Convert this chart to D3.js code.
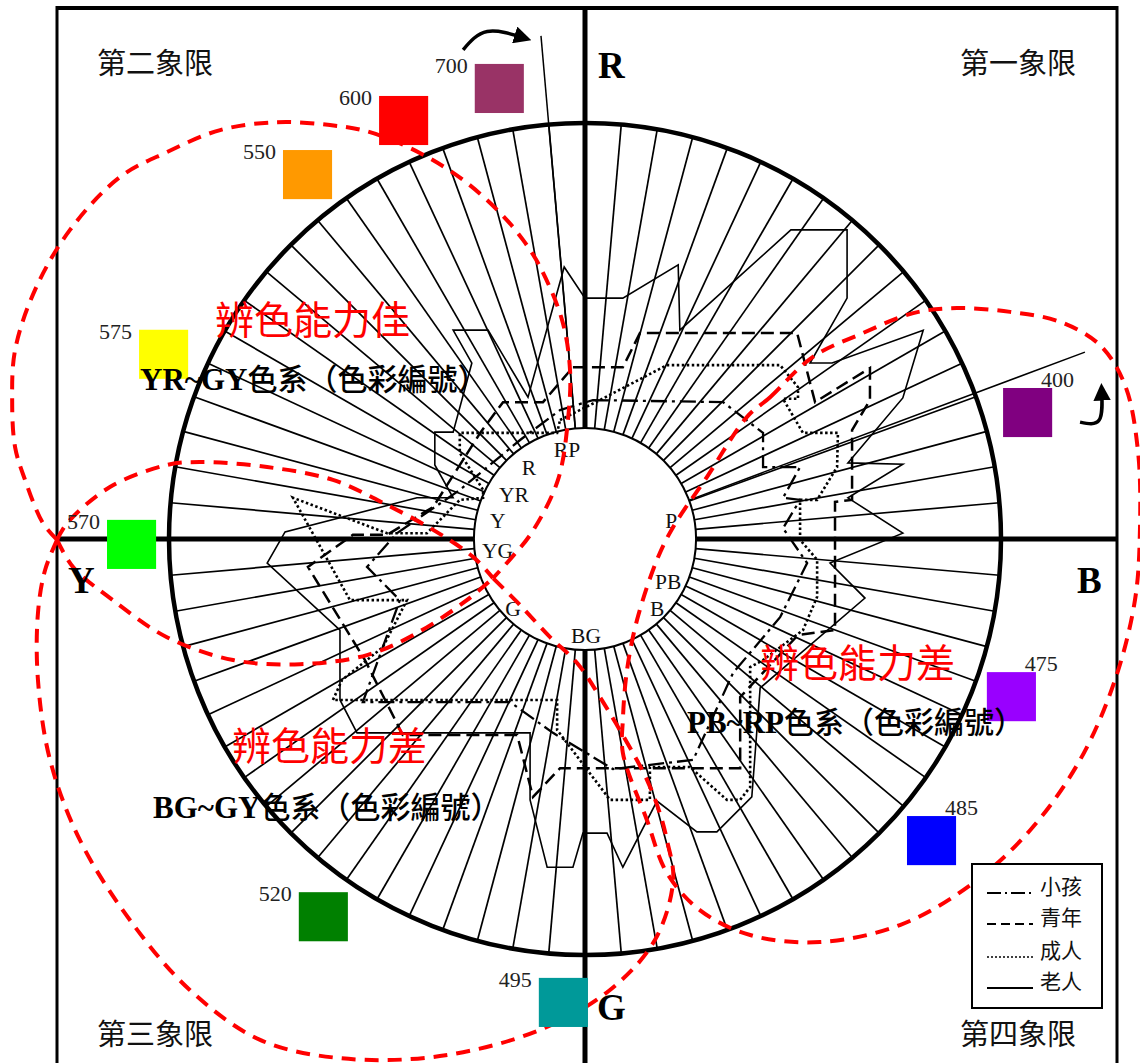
<!DOCTYPE html>
<html><head><meta charset="utf-8">
<script src="https://cdn.jsdelivr.net/npm/d3@7"></script>
<style>body{margin:0;background:#fff;}svg{display:block;}</style>
</head><body>
<svg id="chart" width="1140" height="1063"></svg>
<script>
// ---------- data (chart units: outer ring radius = 100, origin at the centre) ----------
const hueLabels  = ["RP","R","YR","Y","YG","G","BG","B","PB","P"];
const hueAngles  = [348.6, 322.1, 301.8, 281.7, 262.8, 226.2, 179.4, 133.8, 116.8, 78.2];
const hueRadii   = [21.9, 21.9, 20.1, 21.4, 21.2, 24.0, 23.3, 24.0, 22.4, 21.2];

const swatchNames  = ["700","600","550","575","570","520","495","485","475","400"];
const swatchColors = ["#993366","#FF0000","#FF9900","#FFFF00","#00FF00","#008000","#009999","#0000FF","#9900FF","#800080"];

const seriesNames = ["小孩","青年","成人","老人"];

// 小孩
const childPts = [[1.9,33.4],[33.2,32.9],[42.8,25.5],[42.8,17.3],[51.7,17.3],[47.6,9.9],[51.7,9.4],[47.6,2.6],
  [53.4,-5.8],[46.9,-18.8],[35.6,-32.2],[26.0,-53.1],[6.7,-55.3],[-7.7,-46.6],[-18.0,-39.2],[-53.4,-39.2],
  [-44.5,-14.7],[-52.4,-6.7],[-45.2,1.4],[-30.1,11.8],[-15.6,23.8],[-6.0,31.0]];
// 青年
const youthPts = [[-2.9,41.3],[9.1,41.3],[13.2,49.5],[51.0,49.5],[55.3,32.9],[68.5,41.1],[68.5,33.4],[64.2,26.2],
  [64.2,9.4],[60.1,8.9],[60.1,-21.9],[51.2,-23.1],[37.3,-38.0],[37.3,-55.1],[-6.0,-55.1],[-12.5,-62.0],
  [-16.3,-47.1],[-43.8,-47.1],[-52.9,-29.1],[-66.6,-6.7],[-55.8,1.0],[-47.6,1.0],[-36.5,7.7],[-25.2,25.5],
  [-19.7,32.9],[-10.1,32.9]];
// 成人
const adultPts = [[-6.0,28.6],[3.6,33.4],[19.7,41.8],[46.9,41.8],[51.2,36.5],[51.2,33.7],[47.6,33.7],[52.4,25.5],
  [60.8,25.5],[60.6,17.3],[55.8,9.4],[51.7,9.4],[51.7,-0.2],[55.8,-5.0],[55.8,-13.9],[52.4,-21.9],[42.8,-29.1],
  [39.7,-30.8],[39.7,-59.6],[37.3,-62.7],[34.1,-62.7],[25.2,-54.8],[15.6,-54.8],[15.6,-62.7],[6.0,-62.7],
  [-6.7,-45.9],[-6.7,-38.7],[-60.6,-38.7],[-58.4,-33.9],[-48.6,-26.0],[-42.8,-14.7],[-56.5,-14.7],[-70.2,9.9],
  [-47.6,1.4],[-38.0,1.4],[-30.1,9.4],[-24.5,9.9],[-24.5,11.8],[-30.1,20.7],[-30.1,25.5],[-6.7,25.5]];
// 老人
const elderPts = [[0,57.9],[9.1,57.9],[22.4,65.9],[22.8,50.2],[49.5,74.3],[63.0,74.3],[63.0,57.9],[54.1,42.3],
  [59.4,42.3],[81.3,50.2],[76.4,33.9],[63.2,18.3],[76.4,18.0],[63.2,9.9],[76.4,1.4],[58.9,-5.8],[67.3,-14.2],
  [42.1,-35.8],[40.1,-62.0],[31.7,-70.4],[26.9,-70.4],[17.3,-63.0],[9.1,-78.9],[5.3,-70.7],[-0.5,-70.7],
  [-2.9,-78.9],[-9.1,-78.9],[-13.2,-62.7],[-13.2,-46.6],[-54.8,-46.6],[-58.9,-38.7],[-58.9,-21.9],[-76.4,-5.8],
  [-72.1,1.7],[-40.4,9.9],[-31.7,9.9],[-36.1,17.8],[-36.1,25.7],[-31.7,25.7],[-27.2,42.3],[-31.7,50.2],
  [-23.3,50.2],[-13.7,34.1],[-5.0,65.4]];

// outlines of the discrimination zones
const zoneUpper = [[-126.9,-0.2],[-130.3,3.8],[-134.6,14.2],[-137.0,22.1],[-137.7,33.4],[-137.0,45.4],[-132.2,59.9],
  [-123.8,74.3],[-111.8,87.0],[-100.5,93.0],[-87.7,98.3],[-74.0,100.2],[-61.3,99.5],[-51.7,97.8],[-39.7,92.8],
  [-29.3,86.3],[-20.4,78.4],[-14.9,71.9],[-10.8,65.4],[-5.5,52.6],[-3.6,40.6],[-4.1,28.6],[-6.5,14.2],
  [-12.7,1.7],[-17.5,-4.3],[-22.1,-9.4]];
const zoneMidTop = [[-126.9,-0.2],[-124.5,3.8],[-114.2,12.5],[-100.5,17.8],[-92.6,18.5],[-76.4,17.3],[-60.6,14.2],
  [-48.6,8.7],[-36.5,2.2],[-26.9,-4.3],[-22.1,-9.4]];
const zoneMidBottom = [[-126.9,-0.2],[-123.1,-6.7],[-113.5,-14.7],[-100.5,-23.6],[-84.6,-29.1],[-68.5,-30.1],
  [-52.4,-27.9],[-40.4,-22.6],[-28.4,-14.7],[-22.1,-9.4]];
const zoneLower = [[-126.9,-0.2],[-129.8,-7.5],[-131.5,-17.8],[-131.5,-33.9],[-128.6,-53.1],[-121.4,-72.4],
  [-109.4,-91.6],[-95.0,-108.4],[-78.1,-120.4],[-58.9,-124.8],[-34.9,-124.3],[-10.8,-118.0],[6.0,-108.4],
  [16.8,-96.4],[21.2,-82.0],[19.7,-72.4],[18.0,-65.9],[14.9,-57.9],[11.5,-51.4],[3.6,-38.0],[-1.9,-29.8],
  [-8.4,-23.6],[-15.6,-15.9],[-22.1,-9.4]];
const zoneRight = [[38.9,29.3],[44.5,34.1],[54.8,43.8],[66.8,49.5],[78.9,54.3],[89.4,55.5],[102.2,54.6],[114.2,52.2],
  [123.8,46.6],[129.8,37.0],[132.9,21.4],[133.4,2.2],[132.2,-14.7],[127.4,-33.9],[119.0,-53.1],[107.0,-70.0],
  [92.6,-83.2],[75.7,-92.8],[56.5,-96.9],[39.7,-95.2],[27.6,-89.2],[19.7,-80.3],[14.9,-67.6],[9.1,-51.4],
  [9.1,-43.5],[10.1,-31.5],[12.5,-19.5],[17.3,-5.0],[21.2,2.9],[29.3,14.9]];

// ---------- layout ----------
const W = 1140, H = 1063;
const cx = 585, cy = 539, R = 416;
const innerR = 26.7;             // in chart units
const frame = {left: 57, top: 8, right: 1117};

const swatchPos = [[-20.6,108.3],[-43.6,100.6],[-66.7,87.6],[-101.3,44.4],[-109.0,-1.3],
                   [-62.9,-90.8],[-5.2,-111.4],[83.3,-72.5],[102.5,-37.9],[106.4,30.4]];
const swatchSide = [ "L","L","L","L","L","L","L","R","R","R" ];

const styles = [
  {dash:"16 5 3 5", width:2.3},
  {dash:"13 6",     width:2.5},
  {dash:"2.5 2.5",  width:2.6},
  {dash:null,       width:1.6}
];

const svg = d3.select("#chart");
const x = d3.scaleLinear().domain([-100,100]).range([cx-R, cx+R]);
const y = d3.scaleLinear().domain([-100,100]).range([cy+R, cy-R]);
const rs = d3.scaleLinear().domain([0,100]).range([0,R]);
const polar = (deg, r) => { const a = deg*Math.PI/180; return [r*Math.sin(a), r*Math.cos(a)]; };

const serif = "'Liberation Serif','Times New Roman',serif";
const cjk = "'Noto Sans CJK TC','Noto Sans CJK SC',sans-serif";

svg.append("rect").attr("width",W).attr("height",H).attr("fill","#fff");

// ---------- frame and quadrant axes ----------
const gFrame = svg.append("g").attr("stroke","#000").attr("fill","none");
gFrame.append("line").attr("x1",frame.left).attr("x2",frame.right).attr("y1",frame.top).attr("y2",frame.top).attr("stroke-width",4);
gFrame.append("line").attr("x1",frame.left).attr("x2",frame.left).attr("y1",frame.top-2).attr("y2",H).attr("stroke-width",3);
gFrame.append("line").attr("x1",frame.right).attr("x2",frame.right).attr("y1",frame.top-2).attr("y2",H).attr("stroke-width",3);

// ---------- spokes every 5° ----------
const spokeAngles = d3.range(0,360,5).filter(a => a % 90 !== 0);
svg.append("g").selectAll("line").data(spokeAngles).join("line")
  .attr("x1",a=>x(polar(a,innerR)[0])).attr("y1",a=>y(polar(a,innerR)[1]))
  .attr("x2",a=>x(polar(a,100)[0])).attr("y2",a=>y(polar(a,100)[1]))
  .attr("stroke","#000").attr("stroke-width",1.7);

// long pointer lines towards 700 and 400
const pointers = [[355,121.4],[69.5,128.3]];
svg.append("g").selectAll("line").data(pointers).join("line")
  .attr("x1",d=>x(polar(d[0],innerR)[0])).attr("y1",d=>y(polar(d[0],innerR)[1]))
  .attr("x2",d=>x(polar(d[0],d[1])[0])).attr("y2",d=>y(polar(d[0],d[1])[1]))
  .attr("stroke","#000").attr("stroke-width",1.5);

// outer ring
svg.append("circle").attr("cx",x(0)).attr("cy",y(0)).attr("r",rs(100))
  .attr("fill","none").attr("stroke","#000").attr("stroke-width",4.5);

// quadrant axes (full width / height)
svg.append("line").attr("x1",frame.left).attr("x2",frame.right).attr("y1",y(0)).attr("y2",y(0))
  .attr("stroke","#000").attr("stroke-width",5);
svg.append("line").attr("x1",x(0)).attr("x2",x(0)).attr("y1",frame.top-2).attr("y2",H)
  .attr("stroke","#000").attr("stroke-width",5);

// inner hub
svg.append("circle").attr("cx",x(0)).attr("cy",y(0)).attr("r",rs(innerR))
  .attr("fill","#fff").attr("stroke","#000").attr("stroke-width",2);

svg.append("g").selectAll("text").data(hueLabels).join("text")
  .attr("x",(d,i)=>x(polar(hueAngles[i],hueRadii[i])[0]))
  .attr("y",(d,i)=>y(polar(hueAngles[i],hueRadii[i])[1]))
  .attr("dy","0.35em").attr("text-anchor","middle")
  .attr("font-family",serif).attr("font-size",21.5).attr("fill","#111").text(d=>d);

// ---------- age-group profiles ----------
const line = d3.line().x(d=>x(d[0])).y(d=>y(d[1])).curve(d3.curveLinearClosed);
const allSeries = [childPts, youthPts, adultPts, elderPts];
svg.append("g").selectAll("path").data(allSeries).join("path")
  .attr("d",line).attr("fill","none").attr("stroke","#000")
  .attr("stroke-width",(d,i)=>styles[i].width)
  .attr("stroke-dasharray",(d,i)=>styles[i].dash);

// ---------- zone outlines ----------
const zoneOpen = d3.line().x(d=>x(d[0])).y(d=>y(d[1])).curve(d3.curveCatmullRom.alpha(0.5));
const zoneClosed = d3.line().x(d=>x(d[0])).y(d=>y(d[1])).curve(d3.curveCatmullRomClosed.alpha(0.5));
const gZone = svg.append("g").attr("fill","none").attr("stroke","#FF0000")
  .attr("stroke-width",4).attr("stroke-dasharray","14 9");
[zoneUpper, zoneMidTop, zoneMidBottom, zoneLower].forEach(z => gZone.append("path").attr("d",zoneOpen(z)));
gZone.append("path").attr("d",zoneClosed(zoneRight));

// ---------- wavelength swatches ----------
const sw = rs(11.8);
const gSw = svg.append("g");
gSw.selectAll("rect").data(swatchNames).join("rect")
  .attr("x",(d,i)=>x(swatchPos[i][0])-sw/2).attr("y",(d,i)=>y(swatchPos[i][1])-sw/2)
  .attr("width",sw).attr("height",sw).attr("fill",(d,i)=>swatchColors[i]);
gSw.selectAll("text").data(swatchNames).join("text")
  .attr("x",(d,i)=> swatchSide[i]==="L" ? x(swatchPos[i][0])-sw/2-7 : x(swatchPos[i][0])-sw/2+38)
  .attr("y",(d,i)=> swatchSide[i]==="L" ? y(swatchPos[i][1])-sw/2+9 : y(swatchPos[i][1])-sw/2-1)
  .attr("text-anchor",(d,i)=> swatchSide[i]==="L" ? "end" : "start")
  .attr("font-family",serif).attr("font-size",22).attr("fill","#222").text(d=>d);

// curved arrows by the pointer lines
svg.append("defs").append("marker").attr("id","head").attr("viewBox","0 0 10 10")
  .attr("refX",6).attr("refY",5).attr("markerWidth",5).attr("markerHeight",5).attr("orient","auto")
  .append("path").attr("d","M0,0 L10,5 L0,10 Z").attr("fill","#000");
const arrows = [
  [[-29.3,117.6],[-23.5,122.0],[-14.5,120.4]],
  [[119.0,28.1],[123.6,28.6],[124.2,35.8]]
];
const arrowLine = d3.line().x(d=>x(d[0])).y(d=>y(d[1])).curve(d3.curveNatural);
svg.append("g").selectAll("path").data(arrows).join("path")
  .attr("d",arrowLine).attr("fill","none").attr("stroke","#000").attr("stroke-width",3.5)
  .attr("marker-end","url(#head)");

// ---------- text ----------
const quadText = [["第二象限",97,74],["第一象限",960,74],["第三象限",97,1045],["第四象限",960,1045]];
svg.append("g").selectAll("text").data(quadText).join("text")
  .attr("x",d=>d[1]).attr("y",d=>d[2]).attr("font-family",cjk).attr("font-size",29)
  .attr("fill","#111").text(d=>d[0]);

const axisText = [["R",598,78],["Y",68,593],["B",1077,593],["G",597,1020]];
svg.append("g").selectAll("text").data(axisText).join("text")
  .attr("x",d=>d[1]).attr("y",d=>d[2]).attr("font-family",serif).attr("font-weight","bold")
  .attr("font-size",37).attr("fill","#000").text(d=>d[0]);

const zoneText = [["辨色能力佳",215,334],["辨色能力差",760,677],["辨色能力差",232,760]];
svg.append("g").selectAll("text").data(zoneText).join("text")
  .attr("x",d=>d[1]).attr("y",d=>d[2]).attr("font-family",cjk).attr("font-size",39)
  .attr("fill","#FF0000").text(d=>d[0]);

const familyText = [["YR~GY",140,390],["PB~RP",687,733],["BG~GY",153,818]];
familyText.forEach(d => {
  const t = svg.append("text").attr("x",d[1]).attr("y",d[2]).attr("fill","#000");
  t.append("tspan").attr("font-family",serif).attr("font-weight","bold").attr("font-size",31).text(d[0]);
  t.append("tspan").attr("font-family",cjk).attr("font-weight",500).attr("font-size",30).text("色系（色彩編號）");
});

// ---------- legend ----------
const lg = svg.append("g").attr("transform","translate(972,864)");
lg.append("rect").attr("width",130).attr("height",144).attr("fill","#fff").attr("stroke","#000").attr("stroke-width",2);
const legendY = [29, 60, 93, 124];
const legendDash = ["14 4 2 4","9 5","2 2",null];
seriesNames.forEach((n,i) => {
  lg.append("line").attr("x1",15).attr("x2",61).attr("y1",legendY[i]).attr("y2",legendY[i])
    .attr("stroke","#000").attr("stroke-width",i===2?1.5:2).attr("stroke-dasharray",legendDash[i]);
  lg.append("text").attr("x",68).attr("y",legendY[i]+1).attr("font-family",cjk).attr("font-size",21)
    .attr("fill","#111").text(n);
});
</script>
</body></html>
